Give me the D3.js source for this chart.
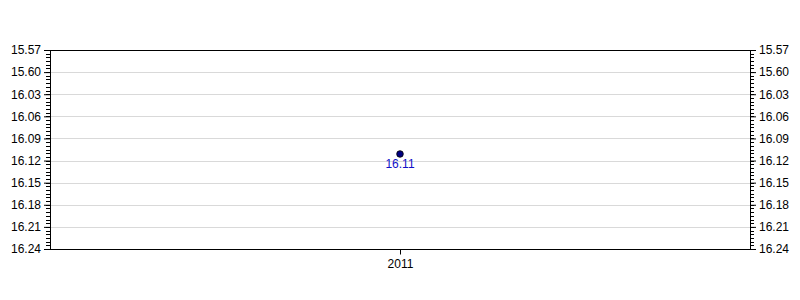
<!DOCTYPE html>
<html>
<head>
<meta charset="utf-8">
<script src="https://cdn.jsdelivr.net/npm/d3@7"></script>
<style>
  body { margin: 0; background: #fff; }
  text { font-family: "Liberation Sans", Arial, sans-serif; font-size: 12px; fill: #000; }
</style>
</head>
<body>
<div id="chart"></div>
<script>
// categories and values (times as seconds: 16.11 -> 16 min 11 s)
var years = ["2011"];
var times = [971];
var timeLabels = ["16.11"];

// y ticks in seconds and their printed labels
var yTicks = [957, 960, 963, 966, 969, 972, 975, 978, 981, 984];
var yTickLabels = ["15.57", "15.60", "16.03", "16.06", "16.09", "16.12", "16.15", "16.18", "16.21", "16.24"];

var width = 800, height = 300;
var margin = {top: 50, right: 50, bottom: 51, left: 50};
var w = width - margin.left - margin.right;
var h = height - margin.top - margin.bottom;

var svg = d3.select("#chart").append("svg")
	.attr("width", width)
	.attr("height", height)
	.append("g")
	.attr("transform", "translate(" + margin.left + "," + margin.top + ")");

var x = d3.scalePoint().domain(years).range([0, w]).padding(0.5);
var y = d3.scaleLinear().domain([957, 984]).range([0, h]);

// minor ticks every half second
var minor = d3.range(957, 984.01, 0.5);

// grid
svg.selectAll(".grid")
	.data(yTicks.slice(1, -1))
	.enter().append("line")
	.attr("x1", 0).attr("x2", w)
	.attr("y1", function(d) { return Math.round(y(d)) + 0.5; })
	.attr("y2", function(d) { return Math.round(y(d)) + 0.5; })
	.style("stroke", "#d9d9d9");

// frame top / bottom
[957, 984].forEach(function(v) {
	svg.append("line")
		.attr("x1", 0).attr("x2", w)
		.attr("y1", Math.round(y(v)) + 0.5).attr("y2", Math.round(y(v)) + 0.5)
		.style("stroke", "#000");
});

function fmt(d) { return yTickLabels[yTicks.indexOf(d)]; }

function yAxis(g, right) {
	var axis = right ? d3.axisRight(y) : d3.axisLeft(y);
	g.call(axis.tickValues(yTicks).tickFormat(fmt).tickSize(6).tickPadding(3));
	g.select(".domain").remove();
	g.selectAll(".tick line").style("stroke", "#000");
	g.selectAll(".tick text").style("font-size", "12px").style("font-family", "Liberation Sans, Arial, sans-serif");
	g.append("line")
		.attr("x1", 0.5).attr("x2", 0.5)
		.attr("y1", 0).attr("y2", h + 0.5)
		.style("stroke", "#000");
	g.selectAll(".minor")
		.data(minor)
		.enter().append("line")
		.attr("x1", 0).attr("x2", right ? 4 : -4)
		.attr("y1", function(d) { return Math.round(y(d)) + 0.5; })
		.attr("y2", function(d) { return Math.round(y(d)) + 0.5; })
		.style("stroke", "#000");
}

svg.append("g").call(yAxis, false);
svg.append("g").attr("transform", "translate(" + w + ",0)").call(yAxis, true);

// x axis
var gx = svg.append("g")
	.attr("transform", "translate(0," + (Math.round(h) + 0.5) + ")")
	.call(d3.axisBottom(x).tickSize(5).tickPadding(5));
gx.select(".domain").remove();
gx.selectAll(".tick line").style("stroke", "#000");
gx.selectAll(".tick text").style("font-size", "12px").style("font-family", "Liberation Sans, Arial, sans-serif");

// points
svg.selectAll(".pt")
	.data(times)
	.enter().append("circle")
	.attr("cx", function(d, i) { return x(years[i]); })
	.attr("cy", function(d) { return y(d) + 0.8; })
	.attr("r", 3.3)
	.style("fill", "#000080")
	.style("stroke", "#000")
	.style("stroke-width", 0.8);

svg.selectAll(".lbl")
	.data(times)
	.enter().append("text")
	.attr("x", function(d, i) { return x(years[i]); })
	.attr("y", function(d) { return y(d) + 15; })
	.attr("text-anchor", "middle")
	.style("fill", "#1010c8")
	.text(function(d, i) { return timeLabels[i]; });
</script>
</body>
</html>
